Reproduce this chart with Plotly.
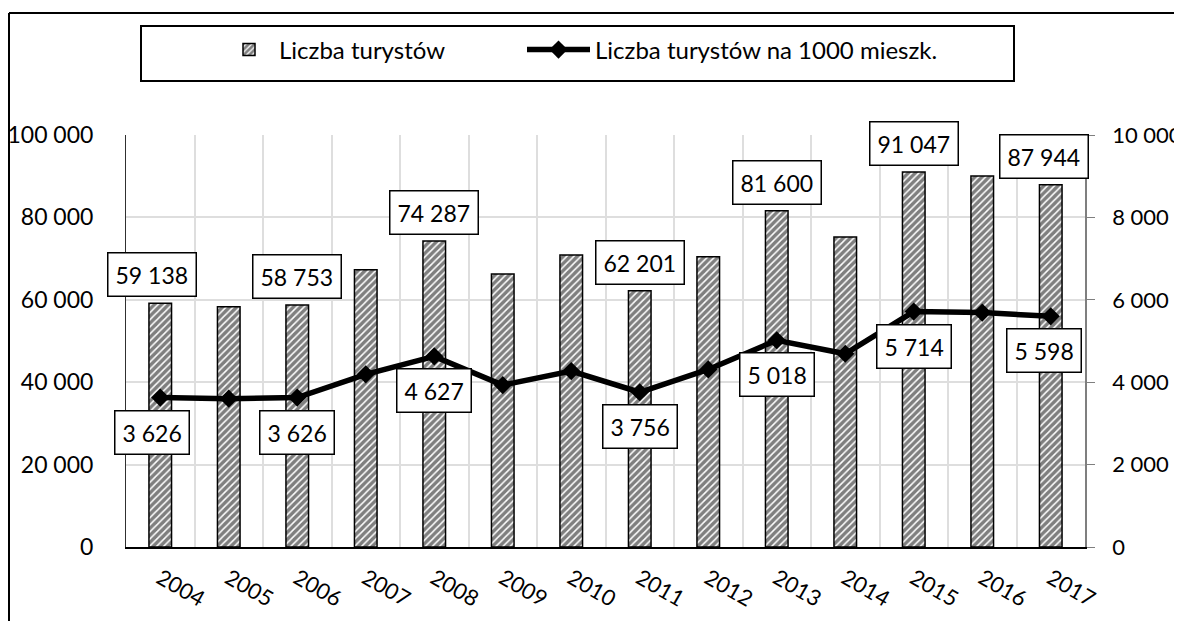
import plotly.graph_objects as go

years = ["2004", "2005", "2006", "2007", "2008", "2009", "2010",
         "2011", "2012", "2013", "2014", "2015", "2016", "2017"]
tourists = [59138, 58300, 58753, 67300, 74287, 66260, 70870,
            62201, 70460, 81600, 75240, 91047, 90050, 87944]
per_1000 = [3626, 3600, 3626, 4190, 4627, 3930, 4270,
            3756, 4310, 5018, 4690, 5714, 5690, 5598]
labelled_years = ["2004", "2006", "2008", "2011", "2013", "2015", "2017"]
y1_ticks = [0, 20000, 40000, 60000, 80000, 100000]
y2_ticks = [0, 2000, 4000, 6000, 8000, 10000]

FONT = "Lato"
FS = 23

def fmt(v):
    return f"{v:,}".replace(",", " ")

FIG_W, FIG_H = 1182, 621
# the page body offsets the figure by a few pixels
OFFX, OFFY = 8, 7

def SX(x):
    return x - OFFX

def SY(y):
    return y - OFFY

L, R, T, B = SX(126), SX(1085), SY(134), SY(546)
W, H = R - L, B - T

def px(x):          # picture x -> paper
    return (SX(x) - L) / W

def py(y):          # picture y -> paper
    return (B - SY(y)) / H

fig = go.Figure()
fig.add_trace(go.Bar(
    x=years, y=tourists, name="Liczba turystów",
    width=0.33,
    marker=dict(color="white",
                line=dict(color="black", width=1.5),
                pattern=dict(shape="/", fgcolor="black", bgcolor="white",
                             size=5, solidity=0.7)),
    yaxis="y", legend="legend",
))
fig.add_trace(go.Scatter(
    x=years, y=per_1000, name="Liczba turystów na 1000 mieszk.",
    mode="lines+markers",
    line=dict(color="black", width=5.5),
    marker=dict(symbol="diamond", size=14, color="black"),
    yaxis="y2", legend="legend2",
))

annotations = []
n = len(years)
for i, (yr, t, p) in enumerate(zip(years, tourists, per_1000)):
    if yr not in labelled_years:
        continue
    edge_shift = -8 if i == 0 else (-7 if i == n - 1 else 0)
    annotations.append(dict(
        x=i, y=t, xref="x", yref="y", text=fmt(t), showarrow=False,
        yanchor="bottom", yshift=6, xshift=edge_shift,
        bgcolor="white", bordercolor="black", borderwidth=1.5, borderpad=7,
        font=dict(family=FONT, size=FS, color="black")))
    annotations.append(dict(
        x=i, y=p, xref="x", yref="y2", text=fmt(p), showarrow=False,
        yanchor="top", yshift=-12, xshift=edge_shift,
        bgcolor="white", bordercolor="black", borderwidth=1.5, borderpad=7,
        font=dict(family=FONT, size=FS, color="black")))

shapes = [
    dict(type="line", xref="paper", yref="paper",
         x0=px(9), x1=px(9), y0=py(12), y1=py(660),
         line=dict(color="black", width=2)),
    dict(type="line", xref="paper", yref="paper",
         x0=px(9), x1=px(1220), y0=py(12), y1=py(12),
         line=dict(color="black", width=2)),
    dict(type="rect", xref="paper", yref="paper",
         x0=px(141), x1=px(1014), y0=py(80), y1=py(25),
         line=dict(color="black", width=2), fillcolor="rgba(0,0,0,0)"),
]

legend_font = dict(family=FONT, size=24, color="black")
fig.update_layout(
    width=FIG_W, height=FIG_H,
    margin=dict(l=L, r=FIG_W - R, t=T, b=FIG_H - B, autoexpand=False),
    paper_bgcolor="white", plot_bgcolor="white",
    font=dict(family=FONT, size=FS, color="black"),
    separators=", ",
    showlegend=True,
    legend=dict(orientation="h", x=px(219), xanchor="left",
                y=py(49), yanchor="middle",
                bgcolor="rgba(0,0,0,0)", borderwidth=0,
                itemwidth=50, font=legend_font),
    legend2=dict(orientation="h", x=px(522), xanchor="left",
                 y=py(49), yanchor="middle",
                 bgcolor="rgba(0,0,0,0)", borderwidth=0,
                 itemwidth=63, font=legend_font),
    xaxis=dict(type="category", range=[-0.5, n - 0.5], autorange=False,
               automargin=False,
               tickangle=30, showgrid=True,
               gridcolor="#dedede", gridwidth=1.5, tickson="boundaries",
               ticks="", showline=True, linecolor="black", linewidth=2,
               ticklabelstandoff=8,
               tickfont=dict(family=FONT, size=22, color="black")),
    yaxis=dict(range=[0, 100000], tickvals=y1_ticks, automargin=False,
               ticktext=[fmt(v) for v in y1_ticks],
               showgrid=True, gridcolor="#dedede", gridwidth=1.5,
               showline=True, linecolor="#303030", linewidth=1,
               ticks="", ticklabelstandoff=27, zeroline=False,
               tickfont=dict(family=FONT, size=FS, color="black")),
    yaxis2=dict(range=[0, 10000], tickvals=y2_ticks, automargin=False,
                ticktext=[fmt(v) for v in y2_ticks],
                overlaying="y", side="right", showgrid=False,
                showline=True, linecolor="#7f7f7f", linewidth=1.5,
                ticks="outside", ticklen=8, tickcolor="#7f7f7f",
                ticklabelstandoff=13, zeroline=False,
                tickfont=dict(family=FONT, size=22, color="black")),
    annotations=annotations,
    shapes=shapes,
)

fig.write_html("out.html")
